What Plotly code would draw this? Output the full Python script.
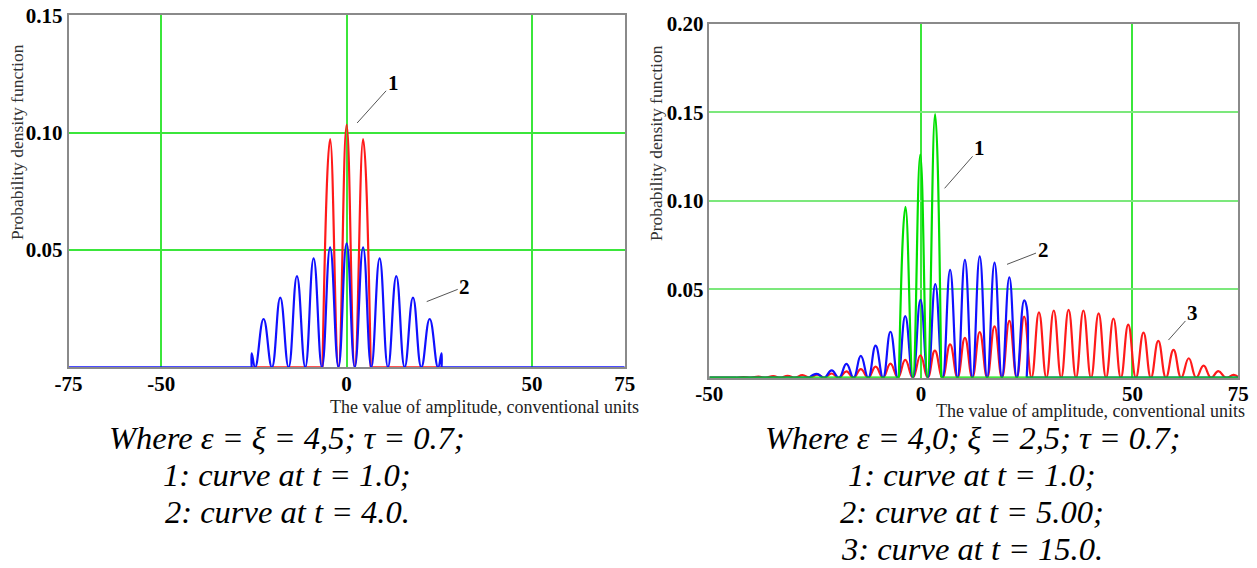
import plotly.graph_objects as go

# ---------------- Left panel (eps = xi = 4.5, tau = 0.7) ----------------
# curve 1 (t = 1.0), red
L1_peak_x = [-4.45, 0.0, 4.45]
L1_peak_y = [0.0972, 0.1033, 0.0972]
L1_trough_x = [-6.5, -2.2, 2.2, 6.5]
L1_zero_x = [-25.5, -6.5, None, 6.5, 25.5]

# curve 2 (t = 4.0), blue
L2_peak_x = [-22.4, -17.9, -13.4, -8.9, -4.45, 0.0, 4.45, 8.9, 13.4, 17.9, 22.4]
L2_peak_y = [0.0206, 0.0297, 0.0389, 0.0464, 0.0511, 0.0528, 0.0511, 0.0464, 0.0389, 0.0297, 0.0206]
L2_trough_x = [-24.65, -20.15, -15.65, -11.15, -6.65, -2.2, 2.2, 6.65, 11.15, 15.65, 20.15, 24.65]
L2_edge_x = [-25.6, 25.6]
L2_edge_y = [0.006, 0.006]
L2_zero_x = [-75, -25.6, None, 25.6, 75]

# ---------------- Right panel (eps = 4.0, xi = 2.5, tau = 0.7) ----------------
# curve 1 (t = 1.0), green
R1_peak_x = [-3.65, -0.15, 3.35]
R1_peak_y = [0.0966, 0.1262, 0.149]
R1_trough_x = [-5.2, -1.9, 1.55, 4.8]
R1_zero_x = [-50, -5.2, None, 4.8, 75]

# curve 2 (t = 5.00), blue
R2_peak_x = [-24.6, -21.1, -17.6, -14.2, -10.7, -7.2, -3.7, -0.1, 3.4, 6.9,
             10.4, 13.9, 17.4, 20.9, 24.4]
R2_peak_y = [0.0022, 0.0042, 0.0078, 0.0123, 0.0181, 0.026, 0.0348, 0.044, 0.053, 0.061,
             0.0666, 0.0686, 0.0651, 0.0568, 0.0437]
R2_trough_x = [-26.4, -22.85, -19.35, -15.9, -12.45, -8.95, -5.45, -1.9, 1.65, 5.15,
               8.65, 12.15, 15.65, 19.15, 22.65]
R2_cut_x = [25.0, 25.0]
R2_cut_y = [0.040, 0.0]
R2_zero_x = [-50, -26.4, None, 25.0, 75]

# curve 3 (t = 15.0), red
R3_peak_x = [-41.9, -38.4, -34.9, -31.5, -28.0, -24.5, -21.1, -17.6, -14.2, -10.7,
             -7.2, -3.7, -0.1, 3.3, 6.9, 10.4, 13.9, 17.4, 20.9, 24.4,
             27.9, 31.4, 34.9, 38.4, 42.0, 45.5, 49.0, 52.6, 56.1, 59.7,
             63.3, 66.8, 70.3, 73.9]
R3_peak_y = [0.0004, 0.0006, 0.0009, 0.0011, 0.0015, 0.0018, 0.0024, 0.0036, 0.0049, 0.0063,
             0.008, 0.0101, 0.0127, 0.0153, 0.0189, 0.0225, 0.0258, 0.029, 0.0322, 0.0346,
             0.0369, 0.038, 0.0384, 0.038, 0.0364, 0.0335, 0.03, 0.0255, 0.0208, 0.0158,
             0.011, 0.0068, 0.0037, 0.0016]
R3_trough_x = [-43.65, -40.15, -36.65, -33.2, -29.75, -26.25, -22.8, -19.35, -15.9, -12.45,
               -8.95, -5.45, -1.9, 1.6, 5.1, 8.65, 12.15, 15.65, 19.15, 22.65,
               26.15, 29.65, 33.15, 36.65, 40.2, 43.75, 47.25, 50.8, 54.35, 57.9,
               61.5, 65.05, 68.55, 72.1]
R3_end_x = [75.0]
R3_end_y = [0.0003]
R3_zero_x = [-50, -43.65]

# tick labels
L_xticks = [-75, -50, 0, 50, 75]
L_yticks = [0.05, 0.10, 0.15]
L_yticktext = ["0.05", "0.10", "0.15"]
R_xticks = [-50, 0, 50, 75]
R_yticks = [0.05, 0.10, 0.15, 0.20]
R_yticktext = ["0.05", "0.10", "0.15", "0.20"]


def lobes(peak_x, peak_y, trough_x, pre=None, post=None):
    pts = [(x, 0.0) for x in trough_x] + list(zip(peak_x, peak_y))
    pts.sort(key=lambda p: p[0])
    if pre:
        pts = list(pre) + pts
    if post:
        pts = pts + list(post)
    return [p[0] for p in pts], [p[1] for p in pts]


def zero_line(xs):
    return xs, [None if x is None else 0.0 for x in xs]


RED = "#ff1a1a"
BLUE = "#1010ff"
GREEN = "#00e000"
LW = 2.2

fig = go.Figure()


def add_curve(x, y, color, xa, ya, shape="spline"):
    fig.add_trace(go.Scatter(x=x, y=y, mode="lines", xaxis=xa, yaxis=ya,
                             line=dict(color=color, width=LW, shape=shape, smoothing=1.3),
                             showlegend=False, hoverinfo="skip"))


# left panel: red then blue
x, y = lobes(L1_peak_x, L1_peak_y, L1_trough_x)
add_curve(x, y, RED, "x", "y")
add_curve(*zero_line(L1_zero_x), RED, "x", "y", "linear")
x, y = lobes(L2_peak_x, L2_peak_y, L2_trough_x,
             pre=[(L2_edge_x[0], 0.0), (L2_edge_x[0], L2_edge_y[0])],
             post=[(L2_edge_x[1], L2_edge_y[1]), (L2_edge_x[1], 0.0)])
add_curve(x, y, BLUE, "x", "y")
add_curve(*zero_line(L2_zero_x), BLUE, "x", "y", "linear")

# right panel: red, blue, green
x, y = lobes(R3_peak_x, R3_peak_y, R3_trough_x, post=list(zip(R3_end_x, R3_end_y)))
add_curve(x, y, RED, "x2", "y2")
add_curve(*zero_line(R3_zero_x), RED, "x2", "y2", "linear")
x, y = lobes(R2_peak_x, R2_peak_y, R2_trough_x, post=list(zip(R2_cut_x, R2_cut_y)))
add_curve(x, y, BLUE, "x2", "y2")
add_curve(*zero_line(R2_zero_x), BLUE, "x2", "y2", "linear")
x, y = lobes(R1_peak_x, R1_peak_y, R1_trough_x)
add_curve(x, y, GREEN, "x2", "y2")
add_curve(*zero_line(R1_zero_x), GREEN, "x2", "y2", "linear")

SERIF = "Liberation Serif"
tickfont = dict(family=SERIF, size=21, color="black", weight="bold")
axis_common = dict(showline=True, mirror=True, linecolor="#8a8a8a", linewidth=1.5,
                   zeroline=False, ticks="", automargin=False,
                   tickfont=tickfont, fixedrange=True)
GRID = "#3be63b"

fig.update_layout(
    width=1257, height=568,
    margin=dict(l=0, r=0, t=0, b=0, pad=0, autoexpand=False),
    paper_bgcolor="white", plot_bgcolor="white",
    xaxis=dict(domain=[0.0545, 0.4970], range=[-75, 75], tickvals=L_xticks,
               ticktext=[str(v) for v in L_xticks], anchor="y", ticklabelstandoff=-3,
               gridcolor=GRID, gridwidth=1.5, **axis_common),
    yaxis=dict(domain=[0.3533, 0.9731], range=[0, 0.15], tickvals=L_yticks,
               ticktext=L_yticktext, anchor="x",
               gridcolor=GRID, gridwidth=1.5, **axis_common),
    xaxis2=dict(domain=[0.5643, 0.9851], range=[-50, 75], tickvals=R_xticks,
                ticktext=[str(v) for v in R_xticks], anchor="y2", ticklabelstandoff=-4,
                gridcolor=GRID, gridwidth=1.5, **axis_common),
    yaxis2=dict(domain=[0.3350, 0.9577], range=[0, 0.20], tickvals=R_yticks,
                ticktext=R_yticktext, anchor="x2",
                gridcolor="#7ce87c", gridwidth=2, **axis_common),
)

ann = []
title_font = dict(family=SERIF, size=17.5, color="#333333")
ann.append(dict(text="Probability density function", x=17 / 1257, y=1 - 142 / 568,
                xref="paper", yref="paper", textangle=-90, showarrow=False,
                font=title_font, xanchor="center", yanchor="middle"))
ann.append(dict(text="Probability density function", x=656 / 1257, y=1 - 143 / 568,
                xref="paper", yref="paper", textangle=-90, showarrow=False,
                font=title_font, xanchor="center", yanchor="middle"))
ann.append(dict(text="The value of amplitude, conventional units", x=641 / 1257, y=1 - 407 / 568,
                xref="paper", yref="paper", showarrow=False, font=dict(family=SERIF, size=18, color="#222"),
                xanchor="right", yanchor="middle"))
ann.append(dict(text="The value of amplitude, conventional units", x=1247 / 1257, y=1 - 411 / 568,
                xref="paper", yref="paper", showarrow=False, font=dict(family=SERIF, size=18, color="#222"),
                xanchor="right", yanchor="middle"))

cap_font = dict(family=SERIF, size=32.5, color="black")
left_caption = ["Where ε = ξ = 4,5; τ = 0.7;", "1: curve at t = 1.0;", "2: curve at t = 4.0."]
right_caption = ["Where ε = 4,0; ξ = 2,5; τ = 0.7;", "1: curve at t = 1.0;",
                 "2: curve at t = 5.00;", "3: curve at t = 15.0."]
for i, line in enumerate(left_caption):
    ann.append(dict(text="<i>" + line + "</i>", x=287 / 1257, y=1 - (438 + 37 * i) / 568,
                    xref="paper", yref="paper", showarrow=False, font=cap_font,
                    xanchor="center", yanchor="middle"))
for i, line in enumerate(right_caption):
    ann.append(dict(text="<i>" + line + "</i>", x=972 / 1257, y=1 - (438 + 37 * i) / 568,
                    xref="paper", yref="paper", showarrow=False, font=cap_font,
                    xanchor="center", yanchor="middle"))

lab_font = dict(family=SERIF, size=21, color="black", weight="bold")
labels = [
    ("1", 2.83, 0.1041, 36, -40, "x", "y"),
    ("2", 21.6, 0.028, 38, -15, "x", "y"),
    ("1", 5.6, 0.1071, 35, -40, "x2", "y2"),
    ("2", 20.35, 0.0641, 36, -14, "x2", "y2"),
    ("3", 58.5, 0.0213, 24, -27, "x2", "y2"),
]
for t, xv, yv, ax, ay, xr, yr in labels:
    ann.append(dict(text=t, x=xv, y=yv, xref=xr, yref=yr, ax=ax, ay=ay,
                    showarrow=True, arrowhead=0, arrowwidth=1, arrowcolor="#555555",
                    font=lab_font))

fig.update_layout(annotations=ann)
fig.write_html("out.html", config={"displayModeBar": False},
               post_script="document.body.style.margin='0px';document.body.style.overflow='hidden';")
